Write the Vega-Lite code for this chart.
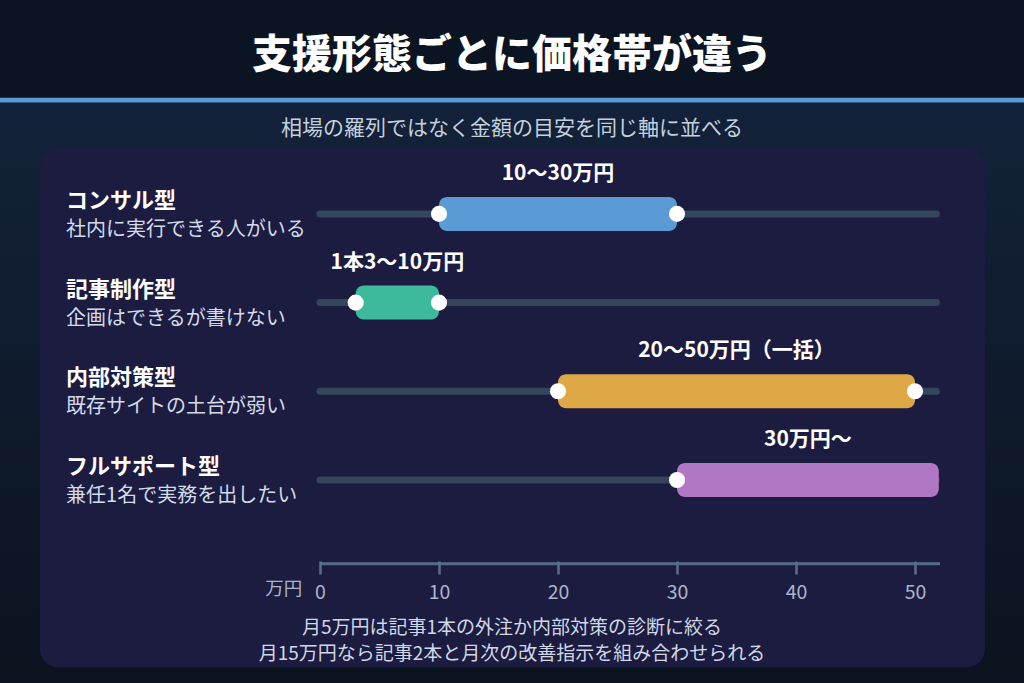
{
  "$schema": "https://vega.github.io/schema/vega-lite/v6.json",
  "width": 1024,
  "height": 683,
  "autosize": {"type": "none"},
  "padding": 0,
  "background": "#0b1422",
  "config": {"view": {"stroke": null}, "font": "Noto Sans CJK JP"},
  "datasets": {
    "plans": [
      {"row": 1, "type": "コンサル型", "need": "社内に実行できる人がいる", "lo": 10, "hi": 30, "open": false, "label": "10〜30万円"},
      {"row": 2, "type": "記事制作型", "need": "企画はできるが書けない", "lo": 3, "hi": 10, "open": false, "label": "1本3〜10万円"},
      {"row": 3, "type": "内部対策型", "need": "既存サイトの土台が弱い", "lo": 20, "hi": 50, "open": false, "label": "20〜50万円（一括）"},
      {"row": 4, "type": "フルサポート型", "need": "兼任1名で実務を出したい", "lo": 30, "hi": 52, "open": true, "label": "30万円〜"}
    ]
  },
  "data": {"name": "plans"},
  "layer": [
    {
      "data": {"values": [{}]},
      "mark": {"type": "rect", "color": {"gradient": "linear", "x1": 0, "y1": 0, "x2": 0, "y2": 1, "stops": [{"offset": 0, "color": "#13223a"}, {"offset": 1, "color": "#0b131f"}]}},
      "encoding": {
        "x": {"datum": -26.8908, "type": "quantitative", "scale": {"domain": [-26.8908, 59.1597], "nice": false, "zero": false}, "axis": {"values": [0, 10, 20, 30, 40, 50], "orient": "bottom", "offset": -122, "zindex": 2, "domain": false, "grid": false, "tickSize": 13, "tickWidth": 2.5, "tickColor": "#5b7088", "labelColor": "#a9b6ca", "labelFontSize": 19.5, "labelPadding": 9, "labelFont": "Noto Sans CJK JP", "labelFlush": false, "title": null}},
        "x2": {"datum": 59.1597},
        "y": {"datum": -0.3, "type": "quantitative", "scale": {"domain": [-1.35556, 6.23333], "nice": false, "zero": false, "reverse": true}, "axis": null},
        "y2": {"datum": 6.23333}
      }
    },
    {
      "data": {"values": [{}]},
      "mark": {"type": "rect", "color": "#5b9bd5"},
      "encoding": {
        "x": {"datum": -26.8908, "type": "quantitative"},
        "x2": {"datum": 59.1597},
        "y": {"datum": -0.3111, "type": "quantitative", "axis": null},
        "y2": {"datum": -0.2556}
      }
    },
    {
      "data": {"values": [{"t": "支援形態ごとに価格帯が違う"}]},
      "mark": {"type": "text", "fontSize": 40, "fontWeight": 900, "color": "#ffffff", "align": "center", "baseline": "middle"},
      "encoding": {
        "x": {"datum": 16.134, "type": "quantitative"},
        "y": {"datum": -0.7778, "type": "quantitative", "axis": null},
        "text": {"field": "t"}
      }
    },
    {
      "data": {"values": [{"t": "相場の羅列ではなく金額の目安を同じ軸に並べる"}]},
      "mark": {"type": "text", "fontSize": 21, "color": "#c5d0de", "align": "center", "baseline": "middle"},
      "encoding": {
        "x": {"datum": 16.134, "type": "quantitative"},
        "y": {"datum": 0.0444, "type": "quantitative", "axis": null},
        "text": {"field": "t"}
      }
    },
    {
      "data": {"values": [{}]},
      "mark": {"type": "rect", "color": "#1c1b40", "cornerRadius": 18},
      "encoding": {
        "x": {"datum": -23.53, "type": "quantitative"},
        "x2": {"datum": 55.88},
        "y": {"datum": 0.2667, "type": "quantitative", "axis": null},
        "y2": {"datum": 6.1111}
      }
    },
    {
      "mark": {"type": "rule", "color": "#33465b", "strokeWidth": 7, "strokeCap": "round"},
      "encoding": {
        "x": {"datum": 0, "type": "quantitative"},
        "x2": {"datum": 51.8},
        "y": {"field": "row", "type": "quantitative", "axis": null}
      }
    },
    {
      "mark": {"type": "bar", "orient": "horizontal", "size": 34, "cornerRadius": 8},
      "encoding": {
        "x": {"field": "lo", "type": "quantitative"},
        "x2": {"field": "hi"},
        "y": {"field": "row", "type": "quantitative", "axis": null},
        "color": {"field": "type", "type": "nominal", "scale": {"domain": ["コンサル型", "記事制作型", "内部対策型", "フルサポート型"], "range": ["#5b9bd5", "#3dba9c", "#dea846", "#b077c4"]}, "legend": null}
      }
    },
    {
      "transform": [
        {"fold": ["lo", "hi"], "as": ["end", "value"]},
        {"filter": "!(datum.end === 'hi' && datum.open)"}
      ],
      "mark": {"type": "circle", "color": "#ffffff", "size": 260, "opacity": 1},
      "encoding": {
        "x": {"field": "value", "type": "quantitative"},
        "y": {"field": "row", "type": "quantitative", "axis": null}
      }
    },
    {
      "transform": [{"fold": ["lo", "hi"], "as": ["end", "value"]}],
      "mark": {"type": "text", "fontSize": 21, "fontWeight": "bold", "color": "#ffffff", "align": "center", "baseline": "middle", "dy": -40},
      "encoding": {
        "x": {"field": "value", "aggregate": "mean", "type": "quantitative"},
        "y": {"field": "row", "type": "quantitative", "axis": null},
        "text": {"field": "label"}
      }
    },
    {
      "mark": {"type": "text", "fontSize": 22, "fontWeight": "bold", "color": "#ffffff", "align": "left", "baseline": "middle", "dy": -13},
      "encoding": {
        "x": {"datum": -21.34, "type": "quantitative"},
        "y": {"field": "row", "type": "quantitative", "axis": null},
        "text": {"field": "type"}
      }
    },
    {
      "mark": {"type": "text", "fontSize": 20, "color": "#d3dbe8", "align": "left", "baseline": "middle", "dy": 16},
      "encoding": {
        "x": {"datum": -21.34, "type": "quantitative"},
        "y": {"field": "row", "type": "quantitative", "axis": null},
        "text": {"field": "need"}
      }
    },
    {
      "data": {"values": [{}]},
      "mark": {"type": "rule", "color": "#566c86", "strokeWidth": 3},
      "encoding": {
        "x": {"datum": 0, "type": "quantitative"},
        "x2": {"datum": 52.1},
        "y": {"datum": 4.9444, "type": "quantitative", "axis": null}
      }
    },
    {
      "data": {"values": [{"t": "万円"}]},
      "mark": {"type": "text", "fontSize": 18.5, "color": "#a9b6ca", "align": "center", "baseline": "middle"},
      "encoding": {
        "x": {"datum": -3.05, "type": "quantitative"},
        "y": {"datum": 5.233, "type": "quantitative", "axis": null},
        "text": {"field": "t"}
      }
    },
    {
      "data": {"values": [{"t": "月5万円は記事1本の外注か内部対策の診断に絞る", "line": 5.6667}, {"t": "月15万円なら記事2本と月次の改善指示を組み合わせられる", "line": 5.9667}]},
      "mark": {"type": "text", "fontSize": 19, "color": "#d0d8e6", "align": "center", "baseline": "middle"},
      "encoding": {
        "x": {"datum": 16.134, "type": "quantitative"},
        "y": {"field": "line", "type": "quantitative", "axis": null},
        "text": {"field": "t"}
      }
    }
  ]
}
